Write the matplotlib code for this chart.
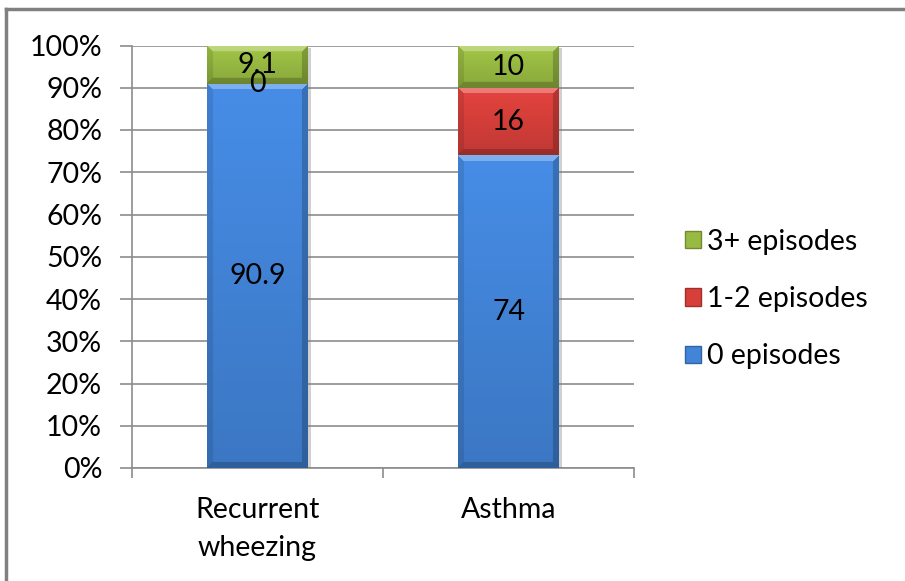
"""
Stacked 100% column chart of wheezing episodes per diagnosis group.
"""

import matplotlib.pyplot as plt
import numpy as np

from matplotlib.colors import to_rgb
from matplotlib.lines import Line2D
from matplotlib.patches import Patch
from matplotlib import patheffects

plt.rcParams["font.family"] = ["Lato", "DejaVu Sans"]

groups = ["Recurrent\nwheezing", "Asthma"]
zero_episodes = [90.9, 74]
one_two_episodes = [0, 16]
three_plus_episodes = [9.1, 10]
value_labels = [["90.9", "74"], ["0", "16"], ["9.1", "10"]]
series_names = ["0 episodes", "1-2 episodes", "3+ episodes"]
y_ticks = list(range(0, 101, 10))

series_colors = ["#4284d8", "#d63f3a", "#98ba42"]
grid_color = "#8c8c8c"
font_size = 20.5
bar_width = 0.4


def bevel_image(color, nx, ny, bevel=6):
    """
    Builds an RGB image of a bevelled, top-lit block of the given colour.
    """
    base = np.array(to_rgb(color))
    rows = np.arange(ny)[:, None] * np.ones((1, nx))
    cols = np.ones((ny, 1)) * np.arange(nx)[None, :]

    shade = 1.07 - 0.17 * rows / max(ny - 1, 1)
    img = base[None, None, :] * shade[..., None]

    from_bottom = ny - 1 - rows
    from_right = nx - 1 - cols
    top = (rows < bevel) & (cols >= rows) & (from_right >= rows)
    bottom = (from_bottom < bevel) & (cols >= from_bottom) & (from_right >= from_bottom)
    left = (cols < bevel) & ~top & ~bottom
    right = (from_right < bevel) & ~top & ~bottom

    img[top] = img[top] * 0.7 + 0.3
    img[bottom] = img[bottom] * 0.8
    img[left] = img[left] * 0.9
    img[right] = img[right] * 0.8
    return np.clip(img, 0, 1)


fig = plt.figure(figsize=(9.05, 5.81), dpi=100)
ax = fig.add_axes([132 / 905, 1 - 468 / 581, 502 / 905, 422.5 / 581])

x = np.arange(len(groups))
stack = [zero_episodes, one_two_episodes, three_plus_episodes]
bottoms = np.zeros(len(groups))
shadow = [
    patheffects.SimplePatchShadow(offset=(2.5, -1.5), shadow_rgbFace="#7a7a7a", alpha=0.35),
    patheffects.Normal(),
]

for values, color, labels in zip(stack, series_colors, value_labels):
    bars = ax.bar(
        x, values, bar_width, bottom=bottoms, color=color, linewidth=0, zorder=3
    )
    for rect, label in zip(bars, labels):
        h = rect.get_height()
        bx, by, bw = rect.get_x(), rect.get_y(), rect.get_width()
        if h > 0:
            rect.set_path_effects(shadow)
            img = bevel_image(color, 100, max(int(round(h * 4.22)), 2))
            im = ax.imshow(
                img,
                extent=[bx, bx + bw, by, by + h],
                aspect="auto",
                interpolation="bilinear",
                zorder=4,
            )
            im.set_clip_path(rect)
        ax.text(
            bx + bw / 2,
            by + h / 2,
            label,
            ha="center",
            va="center",
            fontsize=font_size,
            color="black",
            zorder=6,
        )
    bottoms = bottoms + np.array(values)

ax.set_xlim(-0.5, len(groups) - 0.5)
ax.set_ylim(0, 100)
ax.set_yticks(y_ticks)
ax.set_yticklabels([f"{v}%" for v in y_ticks])
ax.yaxis.grid(True, color=grid_color, linewidth=1.2, zorder=0)
ax.set_axisbelow(True)

# category labels sit between the boundary ticks
ax.set_xticks(np.arange(-0.5, len(groups), 1.0))
ax.set_xticklabels([])
ax.set_xticks(x, minor=True)
ax.set_xticklabels(groups, minor=True, fontsize=font_size, linespacing=1.55)
ax.tick_params(axis="x", which="minor", length=0, pad=21)
ax.tick_params(axis="x", which="major", length=7, width=1.2, color=grid_color)
ax.tick_params(
    axis="y", length=8.5, width=1.2, color=grid_color, pad=13, labelsize=font_size
)

for side in ["top", "right"]:
    ax.spines[side].set_visible(False)
for side in ["left", "bottom"]:
    ax.spines[side].set_color(grid_color)
    ax.spines[side].set_linewidth(1.2)

handles = [
    Patch(facecolor=c, edgecolor=tuple(np.array(to_rgb(c)) * 0.75), linewidth=1)
    for c in series_colors
]
fig.legend(
    handles[::-1],
    series_names[::-1],
    loc="center left",
    bbox_to_anchor=(674 / 905, 1 - 299 / 581),
    frameon=False,
    fontsize=font_size,
    handlelength=0.55,
    handleheight=0.55,
    handletextpad=0.2,
    labelspacing=1.1,
    borderaxespad=0,
)

# chart area frame (only the top and left edges fall inside the image)
fig.add_artist(Line2D([6 / 905, 1], [1 - 9 / 581] * 2, color="#808080", linewidth=2.5))
fig.add_artist(Line2D([6 / 905] * 2, [0, 1 - 9 / 581], color="#808080", linewidth=2.5))

fig.savefig("out.png", dpi=100)
